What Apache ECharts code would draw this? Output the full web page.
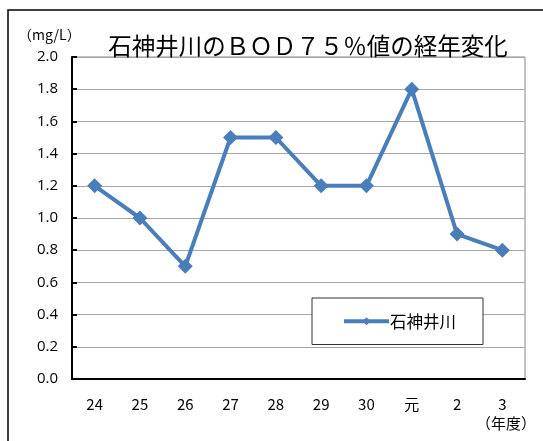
<!DOCTYPE html>
<html><head><meta charset="utf-8">
<script src="https://cdn.jsdelivr.net/npm/echarts@6/dist/echarts.min.js"></script>
<style>html,body{margin:0;padding:0;background:#fff}#c{width:543px;height:441px}</style>
</head><body><div id="c"></div>
<script>
const categories = ['24','25','26','27','28','29','30','元','2','3'];
const values = [1.2, 1.0, 0.7, 1.5, 1.5, 1.2, 1.2, 1.8, 0.9, 0.8];
const seriesName = '石神井川';
const titleText = '石神井川のＢＯＤ７５％値の経年変化';
const yUnit = '（mg/L）';
const xUnit = '（年度）';

const chart = echarts.init(document.getElementById('c'));
const jp = '"Noto Sans CJK JP", "Noto Sans", sans-serif';
chart.setOption({
  animation: false,
  backgroundColor: '#fff',
  title: {
    text: titleText, left: 303, top: 29, textAlign: 'center',
    textStyle: {fontFamily: jp, fontSize: 23.5, fontWeight: 'normal', color: '#000'}
  },
  graphic: [
    {type: 'rect', shape: {x: 8, y: 10, width: 600, height: 500}, style: {fill: 'none', stroke: '#000', lineWidth: 1.5}, z: -1},
    {type: 'text', left: 18, top: 28, style: {text: yUnit, font: '14px ' + jp, fill: '#000'}},
    {type: 'text', left: 476, top: 416, style: {text: xUnit, font: '15px ' + jp, fill: '#000'}}
  ],
  grid: {left: 72, right: 18, top: 57, bottom: 62, show: true, borderColor: '#888', borderWidth: 1},
  legend: {
    left: 312, top: 298, width: 171,
    padding: [15, 27, 15, 30],
    backgroundColor: '#fff', borderColor: '#333', borderWidth: 1,
    itemWidth: 45, itemHeight: 10, itemGap: 0,
    lineStyle: {width: 4},
    textStyle: {fontFamily: jp, fontSize: 16.5, color: '#000', padding: [0, 0, 0, -4]},
    data: [seriesName]
  },
  xAxis: {
    type: 'category', data: categories, boundaryGap: true,
    axisLine: {lineStyle: {color: '#000', width: 2}},
    axisTick: {inside: true, length: 5, lineStyle: {color: '#000', width: 1}},
    axisLabel: {margin: 18, fontSize: 15, color: '#000', fontFamily: jp}
  },
  yAxis: {
    type: 'value', min: 0, max: 2, interval: 0.2,
    axisLine: {show: true, lineStyle: {color: '#000', width: 2}},
    axisTick: {show: true, inside: true, length: 5, lineStyle: {color: '#000', width: 2}},
    axisLabel: {margin: 14, fontSize: 15, color: '#000', fontFamily: '"Open Sans", sans-serif', formatter: v => v.toFixed(1)},
    splitLine: {lineStyle: {color: '#a6a6a6', width: 1}}
  },
  series: [{
    name: seriesName, type: 'line', data: values,
    symbol: 'diamond', symbolSize: 15,
    lineStyle: {color: '#4a7ebb', width: 4},
    itemStyle: {color: '#4a7ebb'}
  }]
});
</script></body></html>
